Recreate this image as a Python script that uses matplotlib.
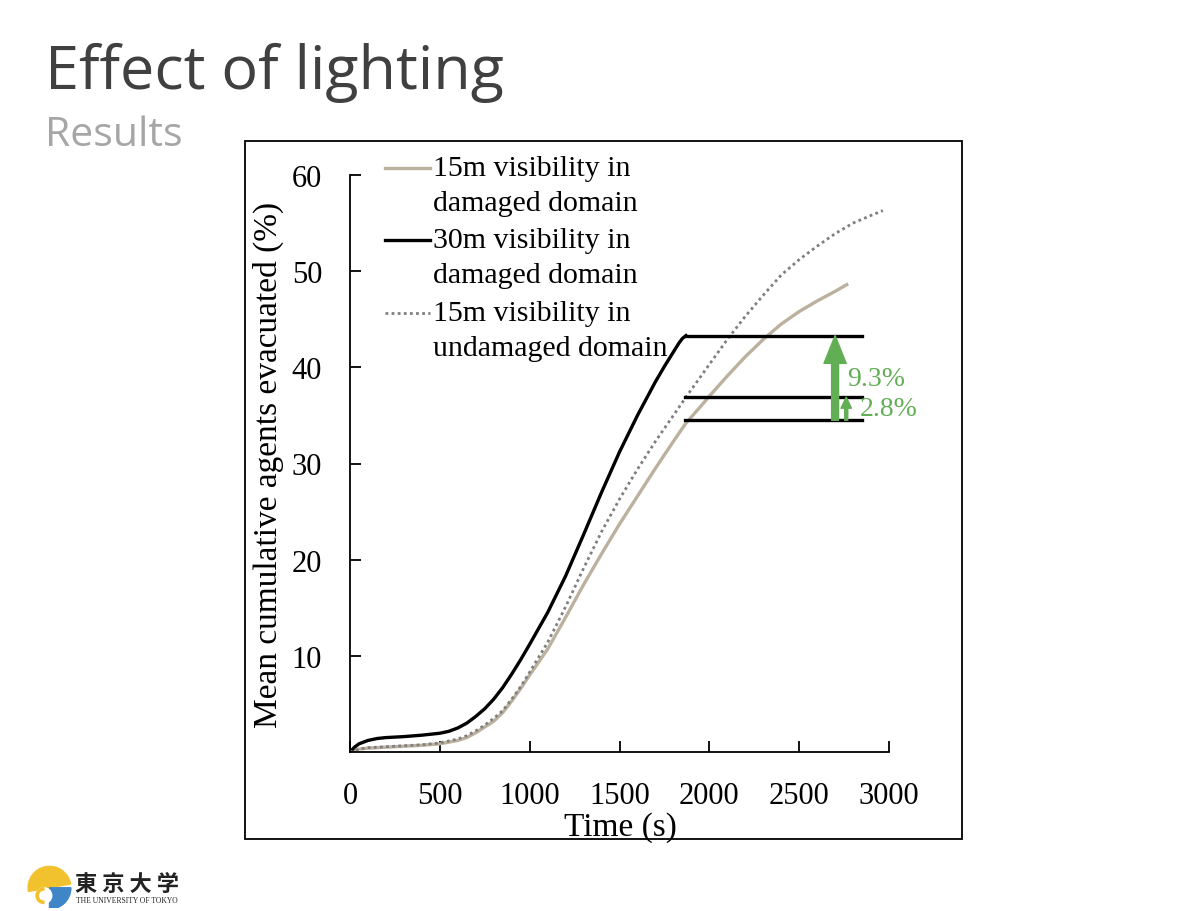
import matplotlib
matplotlib.use("Agg")
import matplotlib.pyplot as plt
from matplotlib.patches import Rectangle, Wedge, Circle

# time (s) and mean cumulative agents evacuated (%)
t_30 = [0, 25, 50, 100, 150, 200, 300, 400, 500, 550, 600, 650, 700, 750,
        800, 850, 900, 950, 1000, 1100, 1200, 1300, 1400, 1500, 1600, 1700,
        1750, 1800, 1830, 1850, 1870]
v_30 = [0, 0.5, 0.85, 1.2, 1.4, 1.5, 1.6, 1.75, 1.95, 2.15, 2.5, 3.0, 3.7,
        4.5, 5.5, 6.7, 8.1, 9.6, 11.2, 14.5, 18.3, 22.6, 27.0, 31.2, 35.0,
        38.5, 40.1, 41.6, 42.5, 43.0, 43.3]

t_15 = [0, 50, 100, 200, 300, 400, 500, 600, 650, 700, 750, 800, 850, 900,
        950, 1000, 1100, 1200, 1300, 1400, 1500, 1600, 1700, 1800, 1870,
        1950, 2000, 2100, 2200, 2300, 2400, 2500, 2600, 2700, 2765]
v_15 = [0, 0.3, 0.4, 0.5, 0.6, 0.7, 0.85, 1.2, 1.5, 2.0, 2.6, 3.2, 4.1, 5.3,
        6.6, 8.0, 10.7, 14.0, 17.4, 20.6, 23.7, 26.6, 29.5, 32.3, 34.2,
        35.9, 37.0, 39.1, 41.1, 42.9, 44.5, 45.8, 46.9, 47.9, 48.6]

t_15u = [0, 50, 100, 200, 300, 400, 500, 600, 650, 700, 750, 800, 850, 900,
         950, 1000, 1100, 1200, 1300, 1400, 1500, 1600, 1700, 1800, 1870,
         2000, 2100, 2200, 2300, 2400, 2500, 2600, 2700, 2800, 2900, 2966]
v_15u = [0, 0.3, 0.45, 0.55, 0.65, 0.75, 0.95, 1.35, 1.7, 2.2, 2.8, 3.5, 4.3,
         5.5, 6.8, 8.3, 11.4, 15.1, 19.1, 22.9, 26.3, 29.4, 32.3, 35.0, 36.9,
         40.3, 42.9, 45.3, 47.5, 49.6, 51.2, 52.6, 53.9, 55.0, 55.8, 56.3]

labels = ["15m visibility in\ndamaged domain",
          "30m visibility in\ndamaged domain",
          "15m visibility in\nundamaged domain"]

# evacuation levels at t ~ 1870 s, drawn out to the right
level_30 = 43.3
level_15u = 36.9
level_15 = 34.5
t_ref = 1865
t_end = 2850
gain_big = "9.3%"
gain_small = "2.8%"

green = "#62AE55"
tan = "#BCB19E"

serif = "Liberation Serif"
fs = 22

fig = plt.figure(figsize=(12, 9.12), dpi=100)

# slide title
fig.text(45 / 1200, 1 - 89 / 912, "Effect of lighting", fontsize=44,
         family="Open Sans", color="#404040", va="baseline", ha="left")
fig.text(45 / 1200, 1 - 146 / 912, "Results", fontsize=29.5,
         family="Open Sans", color="#A6A6A6", va="baseline", ha="left")

# frame around chart
fig.patches.append(Rectangle((245 / 1200, 1 - 840 / 912), 717 / 1200, 698 / 912,
                             transform=fig.transFigure, fill=False,
                             edgecolor="black", linewidth=1.3))

ax = fig.add_axes([350 / 1200, 1 - 753 / 912, 539 / 1200, 577 / 912])

styles = [dict(color=tan, linewidth=2.4, linestyle="-"),
          dict(color="black", linewidth=2.4, linestyle="-"),
          dict(color="#7F7F7F", linewidth=2, linestyle=(0, (1, 1.2)))]

ax.plot(t_15, v_15, **styles[0])
ax.plot(t_30, v_30, **styles[1])
ax.plot(t_15u, v_15u, **styles[2])

ax.plot([t_30[-1], t_end], [level_30, level_30], color="black", linewidth=2.4)
ax.plot([t_ref, t_end], [level_15u, level_15u], color="black", linewidth=2.4)
ax.plot([t_ref, t_end], [level_15, level_15], color="black", linewidth=2.4)

ax.annotate("", xy=(2700, level_30), xytext=(2700, level_15),
            arrowprops=dict(arrowstyle="simple,head_width=1.6,head_length=2.0,tail_width=0.5",
                            color=green, shrinkA=0, shrinkB=0, mutation_scale=10))
ax.annotate("", xy=(2762, level_15u), xytext=(2762, level_15),
            arrowprops=dict(arrowstyle="simple,head_width=0.75,head_length=0.8,tail_width=0.22",
                            color=green, shrinkA=0, shrinkB=0, mutation_scale=10))
ax.text(2768, 38.8, gain_big, color=green, fontsize=20, family=serif,
        ha="left", va="center")
ax.text(2838, 35.7, gain_small, color=green, fontsize=20, family=serif,
        ha="left", va="center")

ax.set_xlim(0, 3000)
ax.set_ylim(0, 60)
ax.set_xticks(range(0, 3001, 500))
ax.set_yticks(range(10, 61, 10))
ax.spines["top"].set_visible(False)
ax.spines["right"].set_visible(False)
for s in ["left", "bottom"]:
    ax.spines[s].set_linewidth(1.3)
ax.tick_params(axis="both", direction="in", length=8, width=1.3,
               labelsize=fs)
ax.tick_params(axis="x", pad=21)
ax.tick_params(axis="y", pad=20)
for lab in ax.get_xticklabels() + ax.get_yticklabels():
    lab.set_family(serif)

ax.set_xlabel("Time (s)", fontsize=24, family=serif)
ax.xaxis.set_label_coords(0.501, -0.102)
ax.set_ylabel("Mean cumulative agents evacuated (%)", fontsize=24, family=serif)
ax.yaxis.set_label_coords(-0.122, 0.499)

# legend drawn by hand so the handle sits on the first text line
rows = [1.012, 0.887, 0.761]
for st, lab, y in zip(styles, labels, rows):
    ax.plot([0.065, 0.148], [y, y], transform=ax.transAxes, clip_on=False, **st)
    for k, part in enumerate(lab.split("\n")):
        ax.text(0.154, y - k * 0.0607, part, transform=ax.transAxes,
                fontsize=21.5, family=serif, ha="left", va="center")

# University of Tokyo logo
lax = fig.add_axes([27 / 1200, 1 - 909 / 912, 45 / 1200, 45 / 912])
lax.set_aspect("equal")
lax.set_xlim(-1, 1)
lax.set_ylim(-1, 1)
lax.axis("off")
lax.add_patch(Wedge((0, -0.1), 0.95, 10, 190, color="#F2C12E"))
lax.add_patch(Wedge((0, -0.1), 0.95, 270, 360, color="#3E86C8"))
lax.add_patch(Circle((-0.25, -0.45), 0.35, color="white"))
lax.add_patch(Wedge((-0.25, -0.45), 0.35, 90, 270, width=0.1, color="#F2C12E"))
fig.text(75 / 1200, 1 - 884 / 912, "東 京 大 学", fontsize=16,
         family=["Noto Sans CJK JP", "DejaVu Sans"], weight="bold",
         color="#222222", ha="left", va="center")
fig.text(76 / 1200, 1 - 901 / 912, "THE UNIVERSITY OF TOKYO", fontsize=5.5,
         family=serif, color="#222222", ha="left", va="center")

fig.savefig("out.png", dpi=100)
